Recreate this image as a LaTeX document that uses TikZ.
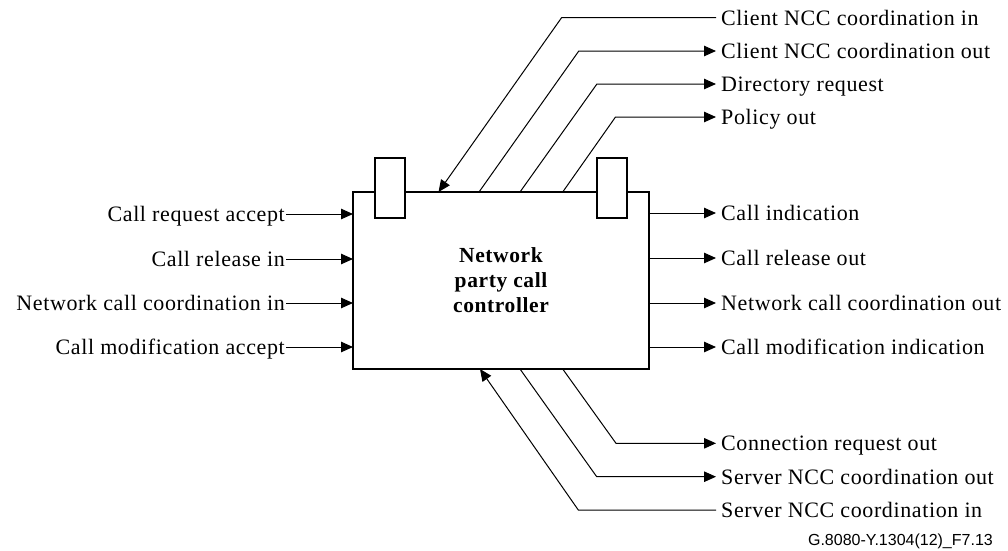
\documentclass[tikz,border=0pt]{standalone}
\usepackage{fontspec}
\setmainfont{Liberation Serif}[LetterSpace=2.8]
\newfontfamily\figfont{Liberation Sans}
\usetikzlibrary{arrows.meta}

\tikzset{
  lbl/.style={font=\fontsize{22}{25}\selectfont, inner ysep=0pt,
              text height=16pt, text depth=1pt},
  lblL/.style={lbl, anchor=east, inner xsep=1pt},
  lblR/.style={lbl, anchor=west, inner xsep=5pt},
  wire/.style={line width=1pt, line join=miter},
  arr/.style={wire, -{Triangle[length=12pt,width=10.5pt]}},
  ctrlbox/.style={draw, line width=1.8pt, outer sep=0pt, fill=white,
                  minimum width=296pt, minimum height=177pt,
                  align=center, font=\bfseries\fontsize{21.5}{25}\selectfont},
  port/.style={draw, line width=1.8pt, fill=white, outer sep=0pt,
               minimum width=30pt, minimum height=60pt, inner sep=0pt}
}

\begin{document}
\begin{tikzpicture}[x=1pt, y=-1pt]
  \useasboundingbox (0,0) rectangle (1008,550);

  % controller and its two ports on the top edge
  \node[ctrlbox] (ctrl) at (501,280.5) {Network\\party call\\controller};
  \node[port] (pl) at (390,188) {};
  \node[port] (pr) at (611.7,188) {};

  % inputs on the left
  \node[lblL] (in1) at (286,214) {Call request accept};
  \node[lblL] (in2) at (286,259) {Call release in};
  \node[lblL] (in3) at (286,303) {Network call coordination in};
  \node[lblL] (in4) at (286,347) {Call modification accept};
  \foreach \n in {in1,in2,in3,in4}
    \draw[arr] (\n) -- (ctrl.west |- \n);

  % outputs on the right
  \node[lblR] (out1) at (716,213) {Call indication};
  \node[lblR] (out2) at (716,258) {Call release out};
  \node[lblR] (out3) at (716,303) {Network call coordination out};
  \node[lblR] (out4) at (716,347) {Call modification indication};
  \foreach \n in {out1,out2,out3,out4}
    \draw[arr] (ctrl.east |- \n) -- (\n);

  % client side interfaces on the top edge
  \node[lblR] (t1) at (716,17.5) {Client NCC coordination in};
  \node[lblR] (t2) at (716,51) {Client NCC coordination out};
  \node[lblR] (t3) at (716,84) {Directory request};
  \node[lblR] (t4) at (716,117) {Policy out};
  \coordinate (k1) at (561.7,17.5);
  \coordinate (k2) at (578.8,51);
  \coordinate (k3) at (596.9,84);
  \coordinate (k4) at (615.5,117);
  \draw[arr] (t1.west) -- (k1) -- ([xshift=85.5pt]ctrl.north west);
  \draw[arr] ([xshift=126pt]ctrl.north west) -- (k2) -- (t2.west);
  \draw[arr] ([xshift=167pt]ctrl.north west) -- (k3) -- (t3.west);
  \draw[arr] ([xshift=209.7pt]ctrl.north west) -- (k4) -- (t4.west);

  % server side interfaces on the bottom edge
  \node[lblR] (b1) at (716,443.3) {Connection request out};
  \node[lblR] (b2) at (716,476.7) {Server NCC coordination out};
  \node[lblR] (b3) at (716,510) {Server NCC coordination in};
  \coordinate (m1) at (616,443.3);
  \coordinate (m2) at (596.7,476.7);
  \coordinate (m3) at (578.3,510);
  \draw[arr] ([xshift=209.7pt]ctrl.south west) -- (m1) -- (b1.west);
  \draw[arr] ([xshift=167pt]ctrl.south west) -- (m2) -- (b2.west);
  \draw[arr] (b3.west) -- (m3) -- ([xshift=127pt]ctrl.south west);

  % figure reference
  \node[font=\figfont\fontsize{16}{18}\selectfont, anchor=base east, inner sep=0pt]
    (fig) at (993,545) {G.8080-Y.1304(12)\_F7.13};
\end{tikzpicture}
\end{document}
